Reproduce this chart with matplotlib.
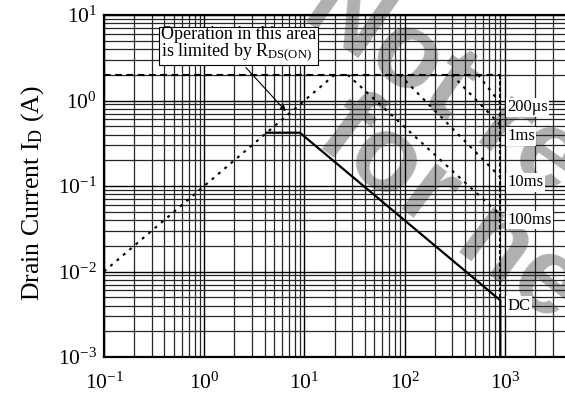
import matplotlib
matplotlib.use("Agg")
import matplotlib.pyplot as plt

plt.rcParams['font.family'] = ['Liberation Serif', 'DejaVu Serif']
plt.rcParams['mathtext.fontset'] = 'custom'
plt.rcParams['mathtext.rm'] = 'Liberation Serif'
plt.rcParams['mathtext.it'] = 'Liberation Serif:italic'

# safe operating area
dc_v = [4.2, 9, 900, 900]
dc_i = [0.42, 0.42, 0.0046, 0.001]
rds_v = [0.1, 20]
rds_i = [0.01, 2]
limit_v = [0.1, 900]
limit_i = [2, 2]
vmax_v = [900, 900]
vmax_i = [2, 0.0046]
pulse_names = ['200µs', '1ms', '10ms', '100ms']
pulse_v = [[540, 900], [295, 900], [89, 900], [27, 900]]
pulse_i = [[2, 0.93], [2, 0.52], [2, 0.127], [2, 0.046]]
label_i = [0.83, 0.38, 0.11, 0.04, 0.004]
label_names = pulse_names + ['DC']

xticks = [0.1, 1, 10, 100, 1000]
xlabels = ['$10^{-1}$', '$10^{0}$', '$10^{1}$', '$10^{2}$', '$10^{3}$']
yticks = [0.001, 0.01, 0.1, 1, 10]
ylabels = ['$10^{-3}$', '$10^{-2}$', '$10^{-1}$', '$10^{0}$', '$10^{1}$']

fig = plt.figure(figsize=(5.65, 3.99), dpi=100)
ax = fig.add_axes([104/565, 42/399, 1 - 104/565, 342/399])

# watermark, behind the grid
for txt, x0, y0, rot in [('Not recommended', 316, -6, -35),
                         ('for new design', 330, 120, -37)]:
    ax.text(x0/565, 1 - y0/399, txt, transform=fig.transFigure, rotation=rot,
            rotation_mode='anchor', ha='left', va='center', fontsize=78,
            fontweight='bold', color='#b0b0b0', family='Liberation Sans',
            zorder=0.5, clip_on=False)

ax.set_xscale('log')
ax.set_yscale('log')
ax.set_xlim(0.1, 3980)
ax.set_ylim(0.001, 10)

ax.grid(True, which='major', color='black', lw=1.0)
ax.grid(True, which='minor', color='0.15', lw=0.9)
ax.set_xticks(xticks)
ax.set_xticklabels(xlabels)
ax.set_yticks(yticks)
ax.set_yticklabels(ylabels)
ax.tick_params(which='both', length=0, labelsize=15.5)
ax.tick_params(axis='x', pad=11)
ax.tick_params(axis='y', pad=5)
ax.spines['right'].set_visible(False)
for s in ['left', 'bottom', 'top']:
    ax.spines[s].set_linewidth(1.6)

ax.plot(limit_v, limit_i, color='black', lw=1.5, dashes=(3.2, 2.2))
ax.plot(rds_v, rds_i, color='black', lw=1.5, dashes=(1.4, 2.6))
ax.plot(vmax_v, vmax_i, color='black', lw=1.5, dashes=(2.0, 1.0))
for v, i in zip(pulse_v, pulse_i):
    ax.plot(v, i, color='black', lw=1.5, dashes=(1.4, 2.6))
ax.plot(dc_v, dc_i, color='black', lw=1.6)

for name, i in zip(label_names, label_i):
    ax.text(1060, i, name, fontsize=12, ha='left', va='center',
            bbox=dict(facecolor='white', edgecolor='none', pad=0.8))

ax.annotate('Operation in this area\nis limited by R$_\\mathrm{DS(ON)}$',
            xy=(6.8, 0.71), xytext=(0.37, 7.5), textcoords='data',
            fontsize=13, ha='left', va='top', linespacing=0.9,
            bbox=dict(facecolor='white', edgecolor='black', lw=0.8, pad=1.5),
            arrowprops=dict(arrowstyle='-|>', color='black', lw=0.8,
                            mutation_scale=8, relpos=(0.52, 0)))

ax.set_ylabel('Drain Current I$_\\mathrm{D}$ (A)', fontsize=18.5)
ax.yaxis.set_label_coords(-0.125, 0.48)

fig.savefig('out.png', dpi=100)
